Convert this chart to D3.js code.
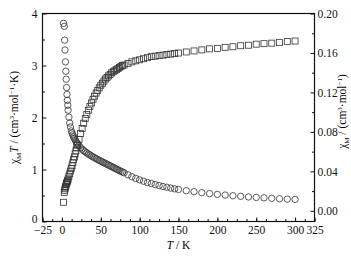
<!DOCTYPE html>
<html>
<head>
<meta charset="utf-8">
<script src="https://cdn.jsdelivr.net/npm/d3@7"></script>
<style>
  body { margin: 0; background: #fff; }
  svg { display: block; font-family: "Liberation Serif", "Times New Roman", serif; }
  .axis { font-family: "Liberation Serif", "Times New Roman", serif; }
  .axis text { font-size: 11.5px; fill: #111; }
  .axis line, .axis path { stroke: #111; }
</style>
</head>
<body>
<svg id="chart" width="351" height="261"></svg>
<script>
// temperature points (K)
const temps = [2, 3, 3.5, 4, 4.5, 5, 5.5, 6, 6.5, 7, 7.5, 8, 9, 10, 11, 12, 13, 14, 15, 16, 17, 18, 19, 20,
  22, 24, 26, 28, 30, 32, 34, 36, 38, 40, 42, 44, 46, 48, 50, 52, 54, 56, 58, 60, 62, 64, 66, 68, 70,
  72, 74, 76, 78, 80, 85, 90, 95, 100, 105, 110, 115, 120, 125, 130, 135, 140, 145, 150,
  160, 170, 180, 190, 200, 210, 220, 230, 240, 250, 260, 270, 280, 290, 300];

// chi_M T, cm3 mol-1 K (squares, left axis)
const chiT = [0.37, 0.56, 0.60, 0.63, 0.66, 0.68, 0.71, 0.73, 0.75, 0.77, 0.79, 0.82, 0.87, 0.92, 0.97, 1.02, 1.07, 1.13, 1.19, 1.24, 1.30, 1.36, 1.42, 1.47,
  1.58, 1.69, 1.79, 1.89, 1.98, 2.06, 2.14, 2.21, 2.28, 2.35, 2.41, 2.47, 2.52, 2.57, 2.62, 2.66, 2.70, 2.74, 2.77, 2.80, 2.83, 2.86, 2.88, 2.90, 2.92,
  2.94, 2.96, 2.98, 3.00, 3.01, 3.04, 3.07, 3.09, 3.11, 3.13, 3.15, 3.17, 3.18, 3.19, 3.20, 3.21, 3.22, 3.23, 3.24,
  3.26, 3.28, 3.30, 3.32, 3.33, 3.35, 3.36, 3.38, 3.39, 3.41, 3.42, 3.43, 3.44, 3.46, 3.47];

// chi_M, cm3 mol-1 (circles, right axis)
const chi = [0.190, 0.187, 0.173, 0.163, 0.151, 0.1415, 0.1334, 0.125, 0.118, 0.112, 0.107, 0.102, 0.095, 0.089, 0.085, 0.081, 0.079, 0.077, 0.075, 0.0735, 0.072, 0.0705, 0.069, 0.068,
  0.066, 0.064, 0.0625, 0.061, 0.0598, 0.0587, 0.0576, 0.0566, 0.0556, 0.0547, 0.0538, 0.0529, 0.0520, 0.0512, 0.0504, 0.0496, 0.0488, 0.0480, 0.0472, 0.0464, 0.0456, 0.0448, 0.0440, 0.0432, 0.0424,
  0.0416, 0.0408, 0.0400, 0.0393, 0.0386, 0.0365, 0.0346, 0.0329, 0.0314, 0.0300, 0.0287, 0.0277, 0.0266, 0.0256, 0.0247, 0.0239, 0.0231, 0.0223, 0.0217,
  0.0204, 0.0194, 0.0184, 0.0175, 0.0167, 0.0160, 0.0153, 0.0147, 0.0141, 0.0136, 0.0132, 0.0127, 0.0123, 0.0119, 0.0116];

// tick values
const xLabels = [-25, 0, 50, 100, 150, 200, 250, 300, 325];
const xTicks = d3.range(-25, 325.1, 12.5);
const yLeftTicks = [0, 1, 2, 3, 4];
const yRightTicks = [0, 0.04, 0.08, 0.12, 0.16, 0.20];

const box = { left: 42.5, right: 314.5, top: 13.5, bottom: 221.5 };

const x = d3.scaleLinear().domain([-25, 325]).range([box.left, box.right]);
const yL = d3.scaleLinear().domain([0, 4]).range([box.bottom, box.top]);
const yR = d3.scaleLinear().domain([-0.0108, 0.20]).range([box.bottom, box.top]);

const svg = d3.select('#chart');

// frame
svg.append('rect')
    .attr('x', box.left)
    .attr('y', box.top)
    .attr('width', box.right - box.left)
    .attr('height', box.bottom - box.top)
    .attr('fill', 'none')
    .attr('stroke', '#111')
    .attr('stroke-width', 1.2);

// minor ticks first, then labelled axes on top
const fmtX = d => d < 0 ? '\u2212' + Math.abs(d) : String(d);

svg.append('g')
    .attr('class', 'axis')
    .attr('transform', `translate(0,${box.bottom})`)
    .call(d3.axisBottom(x).tickValues(xTicks).tickSize(-2.5).tickFormat(''))
    .call(g => g.select('.domain').remove());

svg.append('g')
    .attr('class', 'axis')
    .attr('transform', `translate(0,${box.bottom})`)
    .call(d3.axisBottom(x).tickValues(xLabels).tickSize(-4).tickPadding(4.5).tickFormat(fmtX))
    .call(g => g.select('.domain').remove());

svg.append('g')
    .attr('class', 'axis')
    .attr('transform', `translate(${box.left},0)`)
    .call(d3.axisLeft(yL).tickValues(d3.range(0.5, 4, 1)).tickSize(-2.5).tickFormat(''))
    .call(g => g.select('.domain').remove());

svg.append('g')
    .attr('class', 'axis')
    .attr('transform', `translate(${box.left},0)`)
    .call(d3.axisLeft(yL).tickValues(yLeftTicks).tickSize(-4).tickPadding(5).tickFormat(d3.format('d')))
    .call(g => g.select('.domain').remove())
    .call(g => g.selectAll('.tick text').filter(d => d === 0).attr('dy', '0.1em'));

svg.append('g')
    .attr('class', 'axis')
    .attr('transform', `translate(${box.right},0)`)
    .call(d3.axisRight(yR).tickValues(d3.range(0.02, 0.2, 0.04)).tickSize(-2.5).tickFormat(''))
    .call(g => g.select('.domain').remove());

svg.append('g')
    .attr('class', 'axis')
    .attr('transform', `translate(${box.right},0)`)
    .call(d3.axisRight(yR).tickValues(yRightTicks).tickSize(-4).tickPadding(3).tickFormat(d3.format('.2f')))
    .call(g => g.select('.domain').remove());

// axis titles
const xTitle = svg.append('text')
    .attr('x', x(150))
    .attr('y', 249)
    .attr('text-anchor', 'middle')
    .attr('font-size', 11.5);
xTitle.append('tspan').attr('font-style', 'italic').text('T');
xTitle.append('tspan').text(' / K');

const yTitle = svg.append('text')
    .attr('transform', `translate(18,${(box.top + box.bottom) / 2}) rotate(-90)`)
    .attr('text-anchor', 'middle')
    .attr('font-size', 11.5);
yTitle.append('tspan').text('\u03c7');
yTitle.append('tspan').attr('font-size', 7).attr('dy', 2.5).text('M');
yTitle.append('tspan').attr('font-style', 'italic').attr('dy', -2.5).text('T');
yTitle.append('tspan').text(' / (cm');
yTitle.append('tspan').attr('font-size', 7).attr('dy', -4).text('3');
yTitle.append('tspan').attr('dy', 4).text('\u00b7mol');
yTitle.append('tspan').attr('font-size', 7).attr('dy', -4).text('\u22121');
yTitle.append('tspan').attr('dy', 4).text('\u00b7K)');

const rTitle = svg.append('text')
    .attr('transform', `translate(346,${(box.top + box.bottom) / 2 - 6}) rotate(-90)`)
    .attr('text-anchor', 'middle')
    .attr('font-size', 11.5);
rTitle.append('tspan').text('\u03c7');
rTitle.append('tspan').attr('font-size', 7).attr('dy', 2.5).text('M');
rTitle.append('tspan').attr('dy', -2.5).text(' / (cm');
rTitle.append('tspan').attr('font-size', 7).attr('dy', -4).text('3');
rTitle.append('tspan').attr('dy', 4).text('\u00b7mol');
rTitle.append('tspan').attr('font-size', 7).attr('dy', -4).text('\u22121');
rTitle.append('tspan').attr('dy', 4).text(')');

// data marks
const pts = temps.map((t, i) => ({ t, chiT: chiT[i], chi: chi[i] }));

svg.append('g')
    .selectAll('rect')
    .data(pts)
    .join('rect')
      .attr('x', d => x(d.t) - 3)
      .attr('y', d => yL(d.chiT) - 3)
      .attr('width', 6)
      .attr('height', 6)
      .attr('fill', 'none')
      .attr('stroke', '#333')
      .attr('stroke-width', 0.8);

svg.append('g')
    .selectAll('circle')
    .data(pts)
    .join('circle')
      .attr('cx', d => x(d.t))
      .attr('cy', d => yR(d.chi))
      .attr('r', 3.2)
      .attr('fill', 'none')
      .attr('stroke', '#333')
      .attr('stroke-width', 0.8);
</script>
</body>
</html>
